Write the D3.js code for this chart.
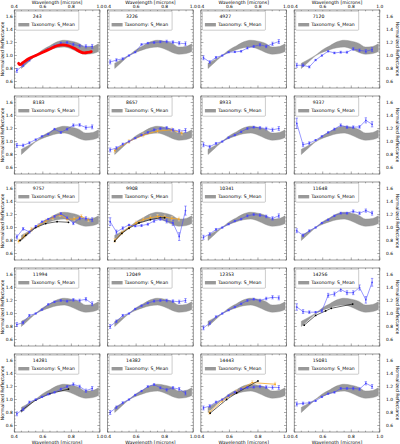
<!DOCTYPE html>
<meta charset="utf-8">
<script src="https://d3js.org/d3.v7.min.js"></script>
<style>
  body { margin: 0; background: #fff; }
  text { font-family: "DejaVu Sans", sans-serif; }
</style>
<div id="my_dataviz"></div>
<script>

// asteroid ids, row by row
var names = ["243", "3226", "4927", "7120",
             "8183", "8657", "8933", "9337",
             "9757", "9908", "10341", "11648",
             "11994", "12049", "12353", "14256",
             "14281", "14382", "14443", "15081"];

// tick labels
var xTicks = [0.4, 0.6, 0.8, 1.0];
var yTicks = [0.6, 0.8, 1.0, 1.2, 1.4, 1.6];

// S_Mean taxonomy band
var bandWave = [0.45, 0.50, 0.55, 0.60, 0.65, 0.70, 0.75, 0.80, 0.85, 0.90, 0.95, 0.99];
var bandLow  = [0.80, 0.90, 0.995, 1.05, 1.09, 1.12, 1.13, 1.10, 1.05, 1.02, 1.03, 1.06];
var bandHigh = [0.88, 0.94, 1.005, 1.09, 1.15, 1.21, 1.235, 1.22, 1.19, 1.13, 1.14, 1.18];

// blue spectra (common wavelength grid)
var blueWave = [0.418, 0.462, 0.506, 0.55, 0.594, 0.638, 0.682, 0.726, 0.77, 0.814, 0.858, 0.902, 0.946];
var blueErr  = [0.03, 0.02, 0.015, 0.01, 0.01, 0.01, 0.012, 0.015, 0.015, 0.02, 0.02, 0.025, 0.03];

var b243   = [0.77, 0.85, 0.93, 1.00, 1.05, 1.10, 1.15, 1.19, 1.20, 1.17, 1.15, 1.14, 1.14];
var b3226  = [0.90, 0.93, 0.95, 1.00, 1.05, 1.17, 1.19, 1.20, 1.21, 1.215, 1.205, 1.19, 1.18];
var b4927  = [0.965, 0.90, 0.97, 1.00, 1.05, 1.055, 1.065, 1.115, 1.14, 1.165, 1.14, 1.18, 1.215];
var b7120  = [0.85, 0.85, 0.825, 0.93, 1.00, 1.065, 1.04, 1.05, 1.05, 1.10, 1.08, 1.065, 1.09];
var b8183  = [0.94, 0.94, 0.98, 1.03, 1.08, 1.115, 1.19, 1.14, 1.19, 1.25, 1.255, 1.215, 1.225];
var b8657  = [0.87, 0.90, 0.96, 1.00, 1.05, 1.10, 1.14, 1.18, 1.20, 1.21, 1.18, 1.16, 1.17];
var b8933  = [0.95, 0.92, 0.97, 1.00, 1.06, 1.10, 1.15, 1.20, 1.22, 1.21, 1.20, 1.18, 1.20];
var b9337  = [1.28, 0.95, 0.975, 1.02, 1.08, 1.14, 1.19, 1.25, 1.22, 1.22, 1.225, 1.325, 1.265];
var b9757  = [0.855, 0.98, 0.93, 1.02, 1.09, 1.13, 1.17, 1.215, 1.15, 1.065, 1.14, 1.14, 1.12];
var b9908  = [1.09, 0.93, 0.99, 1.04, 1.02, 1.03, 1.05, 1.10, 1.13, 1.10, 1.07, 0.86, 1.26];
var b10341 = [0.85, 0.90, 0.97, 1.00, 1.05, 1.10, 1.13, 1.18, 1.20, 1.19, 1.17, 1.14, 1.18];
var b11648 = [0.95, 0.88, 0.95, 1.00, 1.07, 1.12, 1.18, 1.22, 1.22, 1.25, 1.22, 1.26, 1.22];
var b11994 = [0.83, 0.86, 0.97, 1.00, 1.06, 1.14, 1.18, 1.20, 1.19, 1.21, 1.20, 1.22, 1.15];
var b12049 = [0.80, 0.88, 0.97, 1.00, 1.07, 1.12, 1.16, 1.19, 1.20, 1.20, 1.19, 1.18, 1.20];
var b12353 = [0.78, 0.85, 0.95, 1.00, 1.05, 1.10, 1.15, 1.20, 1.22, 1.20, 1.23, 1.25, 1.24];
var b14256 = [1.10, 1.03, 1.02, 1.02, 1.04, 1.28, 1.30, 1.37, 1.32, 1.32, 1.40, 1.21, 1.48];
var b14281 = [0.78, 0.85, 0.96, 1.00, 1.04, 1.08, 1.11, 1.16, 1.20, 1.235, 1.20, 1.135, 1.17];
var b14382 = [0.80, 0.88, 0.95, 1.00, 1.07, 1.13, 1.20, 1.23, 1.18, 1.15, 1.18, 1.16, 1.10];
var b14443 = [0.87, 0.90, 0.96, 1.00, 1.06, 1.11, 1.16, 1.185, 1.19, 1.20, 1.19, 1.185, 1.185];
var b15081 = [0.93, 0.94, 0.95, 0.98, 1.04, 1.09, 1.11, 1.17, 1.17, 1.17, 1.16, 1.25, 1.20];

var e9337  = [0.08, 0.03, 0.02, 0.01, 0.01, 0.01, 0.015, 0.02, 0.02, 0.02, 0.02, 0.04, 0.04];
var e9908  = [0.06, 0.03, 0.02, 0.01, 0.01, 0.015, 0.015, 0.02, 0.02, 0.03, 0.04, 0.06, 0.07];
var e14256 = [0.05, 0.03, 0.02, 0.01, 0.02, 0.03, 0.03, 0.03, 0.03, 0.03, 0.04, 0.05, 0.06];

// red dense spectrum for 243
var redWave = [0.43, 0.44, 0.46, 0.50, 0.55, 0.60, 0.65, 0.70, 0.74, 0.78, 0.82, 0.86, 0.89, 0.92, 0.94];
var redVal  = [0.88, 0.86, 0.89, 0.95, 1.00, 1.05, 1.10, 1.15, 1.165, 1.15, 1.11, 1.06, 1.04, 1.05, 1.06];

// orange spectra
var o8657w  = [0.45, 0.55, 0.65, 0.75, 0.85, 0.92];
var o8657v  = [0.86, 1.00, 1.10, 1.16, 1.18, 1.13];
var o9757w  = [0.43, 0.47, 0.52, 0.57, 0.62, 0.67, 0.72, 0.77, 0.82, 0.87, 0.92];
var o9757v  = [0.79, 0.87, 0.97, 1.03, 1.10, 1.15, 1.20, 1.13, 1.13, 1.17, 1.12];
var o9908w  = [0.45, 0.50, 0.55, 0.60, 0.65, 0.70, 0.75, 0.80, 0.85, 0.90];
var o9908v  = [0.80, 0.92, 1.00, 1.07, 1.12, 1.15, 1.17, 1.16, 1.14, 1.13];
var o14443w = [0.46, 0.55, 0.65, 0.76, 0.92];
var o14443v = [0.80, 0.98, 1.12, 1.26, 1.235];

// black spectra
var k9757w  = [0.44, 0.48, 0.55, 0.62, 0.70, 0.78];
var k9757v  = [0.80, 0.88, 1.00, 1.06, 1.09, 1.08];
var k9908w  = [0.45, 0.50, 0.55, 0.62, 0.70, 0.77, 0.80];
var k9908v  = [0.79, 0.91, 0.99, 1.07, 1.12, 1.15, 1.15];
var k14256w = [0.47, 0.55, 0.62, 0.66, 0.81];
var k14256v = [0.82, 0.97, 1.04, 1.08, 1.145];
var k14281w = [0.45, 0.55, 0.65, 0.78];
var k14281v = [0.83, 0.99, 1.09, 1.16];
var k14443w = [0.465, 0.58, 0.65, 0.80];
var k14443v = [0.79, 1.00, 1.10, 1.285];

var panels = [
  {blue: b243, red: true}, {blue: b3226}, {blue: b4927}, {blue: b7120},
  {blue: b8183}, {blue: b8657, ow: o8657w, ov: o8657v}, {blue: b8933}, {blue: b9337, err: e9337},
  {blue: b9757, ow: o9757w, ov: o9757v, kw: k9757w, kv: k9757v},
  {blue: b9908, err: e9908, ow: o9908w, ov: o9908v, kw: k9908w, kv: k9908v},
  {blue: b10341}, {blue: b11648},
  {blue: b11994}, {blue: b12049}, {blue: b12353}, {blue: b14256, err: e14256, kw: k14256w, kv: k14256v},
  {blue: b14281, kw: k14281w, kv: k14281v}, {blue: b14382},
  {blue: b14443, ow: o14443w, ov: o14443v, kw: k14443w, kv: k14443v}, {blue: b15081}
];

var colLeft = [14.3, 107.6, 200.9, 294.2], pw = 85.6;
var rowTop = [10, 96, 182, 268, 354], ph = 78;
var fs = 4.6, tfs = 4.4;

var x = d3.scaleLinear().domain([0.4, 1.0]).range([0, pw]);
var y = d3.scaleLinear().domain([0.5, 1.7]).range([ph, 0]);

var svg = d3.select("#my_dataviz")
  .append("svg")
    .attr("width", 400)
    .attr("height", 444);

svg.append("defs").append("clipPath").attr("id", "clip")
  .append("rect").attr("width", pw).attr("height", ph);

function series(g, wv, vals, errs, color, errColor, lw, r) {
  var line = d3.line()
    .x(function(d, i) { return x(wv[i]); })
    .y(function(d) { return y(d); });
  if (errs) {
    vals.forEach(function(v, i) {
      var e = errs[i];
      g.append("line").attr("x1", x(wv[i])).attr("x2", x(wv[i]))
        .attr("y1", y(v - e)).attr("y2", y(v + e))
        .attr("stroke", errColor).attr("stroke-width", 0.6);
      [v - e, v + e].forEach(function(c) {
        g.append("line").attr("x1", x(wv[i]) - 1.2).attr("x2", x(wv[i]) + 1.2)
          .attr("y1", y(c)).attr("y2", y(c))
          .attr("stroke", errColor).attr("stroke-width", 0.5);
      });
    });
  }
  g.append("path").datum(vals).attr("d", line)
    .attr("fill", "none").attr("stroke", color).attr("stroke-width", lw);
  if (r > 0) {
    g.selectAll(null).data(vals).enter().append("circle")
      .attr("cx", function(d, i) { return x(wv[i]); })
      .attr("cy", function(d) { return y(d); })
      .attr("r", r).attr("fill", color);
  }
}

panels.forEach(function(p, k) {
  var col = k % 4, row = Math.floor(k / 4);
  var g = svg.append("g").attr("transform", "translate(" + colLeft[col] + "," + rowTop[row] + ")");
  var c = g.append("g").attr("clip-path", "url(#clip)");

  // taxonomy band
  c.append("path")
    .datum(bandWave)
    .attr("d", d3.area()
      .x(function(d) { return x(d); })
      .y0(function(d, i) { return y(bandLow[i]); })
      .y1(function(d, i) { return y(bandHigh[i]); })
      .curve(d3.curveMonotoneX))
    .attr("fill", "#999")
    .attr("stroke", "#8a8a8a")
    .attr("stroke-width", 0.4);

  if (p.ow) {
    var oe = p.ov.map(function() { return 0.03; });
    series(c, p.ow, p.ov, oe, "#f5a623", "#f9cf8e", 0.8, 0.9);
  }
  if (p.kw) series(c, p.kw, p.kv, null, "#000", null, 0.6, 0.9);
  series(c, blueWave, p.blue, p.err || blueErr, "#4545ff", "#4545ff", 0.55, 0.85);

  if (p.red) {
    c.append("path").datum(redVal)
      .attr("d", d3.line().x(function(d, i) { return x(redWave[i]); }).y(function(d) { return y(d); }).curve(d3.curveMonotoneX))
      .attr("fill", "none").attr("stroke", "#ff0000").attr("stroke-width", 2.8)
      .attr("stroke-linecap", "round");
  }

  // frame
  g.append("rect").attr("width", pw).attr("height", ph)
    .attr("fill", "none").attr("stroke", "#555").attr("stroke-width", 0.6);

  // ticks (inward, all sides)
  d3.range(0.4, 1.0001, 0.05).forEach(function(t) {
    var major = Math.abs(Math.round(t * 5) - t * 5) < 1e-6;
    var L = major ? 2.5 : 1.3;
    g.append("line").attr("x1", x(t)).attr("x2", x(t)).attr("y1", 0).attr("y2", L).attr("stroke", "#555").attr("stroke-width", 0.5);
    g.append("line").attr("x1", x(t)).attr("x2", x(t)).attr("y1", ph).attr("y2", ph - L).attr("stroke", "#555").attr("stroke-width", 0.5);
  });
  d3.range(0.5, 1.7001, 0.05).forEach(function(t) {
    var major = Math.abs(Math.round(t * 5) - t * 5) < 1e-6;
    var L = major ? 2.5 : 1.3;
    g.append("line").attr("y1", y(t)).attr("y2", y(t)).attr("x1", 0).attr("x2", L).attr("stroke", "#555").attr("stroke-width", 0.5);
    g.append("line").attr("y1", y(t)).attr("y2", y(t)).attr("x1", pw).attr("x2", pw - L).attr("stroke", "#555").attr("stroke-width", 0.5);
  });

  // tick labels
  if (row === 0) {
    xTicks.forEach(function(t) {
      g.append("text").attr("x", x(t)).attr("y", -2.3).attr("text-anchor", "middle")
        .attr("font-size", tfs).text(t.toFixed(1));
    });
    g.append("text").attr("x", pw / 2).attr("y", -6.3).attr("text-anchor", "middle")
      .attr("font-size", fs).text("Wavelength [microns]");
  }
  if (row === 4) {
    xTicks.forEach(function(t) {
      g.append("text").attr("x", x(t)).attr("y", ph + 6).attr("text-anchor", "middle")
        .attr("font-size", tfs).text(t.toFixed(1));
    });
    g.append("text").attr("x", pw / 2).attr("y", ph + 11.5).attr("text-anchor", "middle")
      .attr("font-size", fs).text("Wavelength [microns]");
  }
  if (col === 0) {
    yTicks.forEach(function(t) {
      g.append("text").attr("x", -1.5).attr("y", y(t) + 1.6).attr("text-anchor", "end")
        .attr("font-size", tfs).text(t.toFixed(1));
    });
    g.append("text").attr("transform", "translate(-10.3," + (ph / 2) + ") rotate(-90)")
      .attr("text-anchor", "middle").attr("font-size", fs).text("Normalized Reflectance");
  }
  if (col === 3) {
    yTicks.forEach(function(t) {
      g.append("text").attr("x", pw + 6.3).attr("y", y(t) + 1.6).attr("text-anchor", "start")
        .attr("font-size", tfs).text(t.toFixed(1));
    });
    g.append("text").attr("transform", "translate(" + (pw + 16.5) + "," + (ph / 2) + ") rotate(90)")
      .attr("text-anchor", "middle").attr("font-size", fs).text("Normalized Reflectance");
  }

  // legend
  var lg = g.append("g").attr("transform", "translate(1.5,1.2)");
  lg.append("rect").attr("width", 63).attr("height", 19)
    .attr("fill", "#fff").attr("stroke", "#999").attr("stroke-width", 0.5).attr("rx", 0.8);
  lg.append("text").attr("x", 17).attr("y", 7.3).attr("font-size", fs).text(names[k]);
  lg.append("rect").attr("x", 2.5).attr("y", 11.8).attr("width", 11).attr("height", 3.4).attr("fill", "#999");
  lg.append("text").attr("x", 15.5).attr("y", 15.2).attr("font-size", fs).text("Taxonomy: S_Mean");
});

</script>
